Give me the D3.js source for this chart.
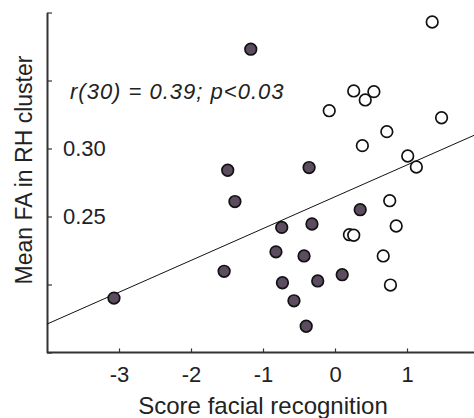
<!DOCTYPE html>
<html>
<head>
<meta charset="utf-8">
<script src="https://cdn.jsdelivr.net/npm/d3@7"></script>
<style>
  body { margin: 0; background: #fff; }
  text { font-family: "Liberation Sans", Arial, sans-serif; fill: #222; }
</style>
</head>
<body>
<svg id="plot"></svg>
<script>
// group A (filled) - score, mean FA
var filledX = [-1.17, -1.49, -0.36, -1.39, 0.35, -0.74, -0.32, -0.82, -0.43, -1.54, -0.73, -0.24, 0.10, -0.57, -3.07, -0.40];
var filledY = [0.373, 0.284, 0.286, 0.261, 0.255, 0.242, 0.2445, 0.224, 0.221, 0.2097, 0.2013, 0.2026, 0.2072, 0.188, 0.190, 0.1693];
// group B (open)
var openX = [1.35, 0.26, 0.54, 0.42, -0.08, 1.48, 0.72, 0.38, 1.01, 1.13, 0.76, 0.85, 0.20, 0.26, 0.67, 0.77];
var openY = [0.393, 0.3423, 0.3418, 0.3357, 0.3278, 0.3226, 0.3124, 0.3021, 0.2945, 0.2864, 0.2616, 0.243, 0.2366, 0.2362, 0.221, 0.1996];
// regression line
var fitIntercept = 0.2645, fitSlope = 0.0234;
var xTicks = [-3, -2, -1, 0, 1];
var yTicks = [0.15, 0.20, 0.25, 0.30, 0.35, 0.40];
var yTickLabels = {"0.25": "0.25", "0.3": "0.30"};

var W = 474, H = 418;
var svg = d3.select("#plot").attr("width", W).attr("height", H);

var x = d3.scaleLinear().domain([-4, 2]).range([47, 479]);
var y = d3.scaleLinear().domain([0.15, 0.40]).range([352.5, 12.5]);

var axisColor = "#333";

// axes
var xAxis = svg.append("g")
  .attr("transform", "translate(0," + y(0.15) + ")")
  .call(d3.axisBottom(x).tickValues(xTicks).tickSizeInner(-4).tickSizeOuter(0).tickFormat(d3.format("d")));
xAxis.select(".domain").attr("d", "M" + x(-4) + ",0H" + W).attr("stroke", axisColor).attr("stroke-width", 2);
xAxis.selectAll(".tick line").attr("stroke", axisColor).attr("stroke-width", 1.2);
xAxis.selectAll(".tick text").attr("font-size", 22).attr("fill", "#222")
  .attr("y", 29.5).attr("dy", 0)
  .text(function(d){ return d < 0 ? "-" + Math.abs(d) : d; });

var yAxis = svg.append("g")
  .attr("transform", "translate(" + x(-4) + ",0)")
  .call(d3.axisLeft(y).tickValues(yTicks).tickSizeInner(-5).tickSizeOuter(0)
    .tickFormat(function(d){ return yTickLabels[String(+d.toFixed(2))] || ""; }));
yAxis.select(".domain").attr("stroke", axisColor).attr("stroke-width", 2);
yAxis.selectAll(".tick line").attr("stroke", axisColor).attr("stroke-width", 1.2);
yAxis.selectAll(".tick text").attr("font-size", 22).attr("fill", "#222")
  .attr("text-anchor", "start").attr("x", 16).attr("dy", 7);

// clip for the fit line
svg.append("clipPath").attr("id", "clip").append("rect")
  .attr("x", x(-4)).attr("y", 0).attr("width", W - x(-4)).attr("height", y(0.15));

svg.append("line")
  .attr("clip-path", "url(#clip)")
  .attr("x1", x(-4)).attr("y1", y(fitIntercept + fitSlope * -4))
  .attr("x2", x(2)).attr("y2", y(fitIntercept + fitSlope * 2))
  .attr("stroke", "#111").attr("stroke-width", 1);

// points
var filled = filledX.map(function(v, i){ return [v, filledY[i]]; });
var open = openX.map(function(v, i){ return [v, openY[i]]; });

svg.selectAll("circle.open").data(open).enter().append("circle")
  .attr("class", "open")
  .attr("cx", function(d){ return x(d[0]); })
  .attr("cy", function(d){ return y(d[1]); })
  .attr("r", 5.8)
  .attr("fill", "#fff").attr("stroke", "#111").attr("stroke-width", 1.7);

svg.selectAll("circle.filled").data(filled).enter().append("circle")
  .attr("class", "filled")
  .attr("cx", function(d){ return x(d[0]); })
  .attr("cy", function(d){ return y(d[1]); })
  .attr("r", 5.8)
  .attr("fill", "#5b4c5f").attr("stroke", "#111").attr("stroke-width", 1.7);

// labels
svg.append("text")
  .attr("x", 70).attr("y", 99)
  .attr("font-size", 22).attr("font-style", "italic").attr("letter-spacing", 1)
  .text("r(30) = 0.39; p<0.03");

svg.append("text")
  .attr("x", 263).attr("y", 414)
  .attr("text-anchor", "middle").attr("font-size", 24)
  .text("Score facial recognition");

svg.append("text")
  .attr("transform", "translate(32,170) rotate(-90)")
  .attr("text-anchor", "middle").attr("font-size", 23)
  .text("Mean FA in RH cluster");
</script>
</body>
</html>
